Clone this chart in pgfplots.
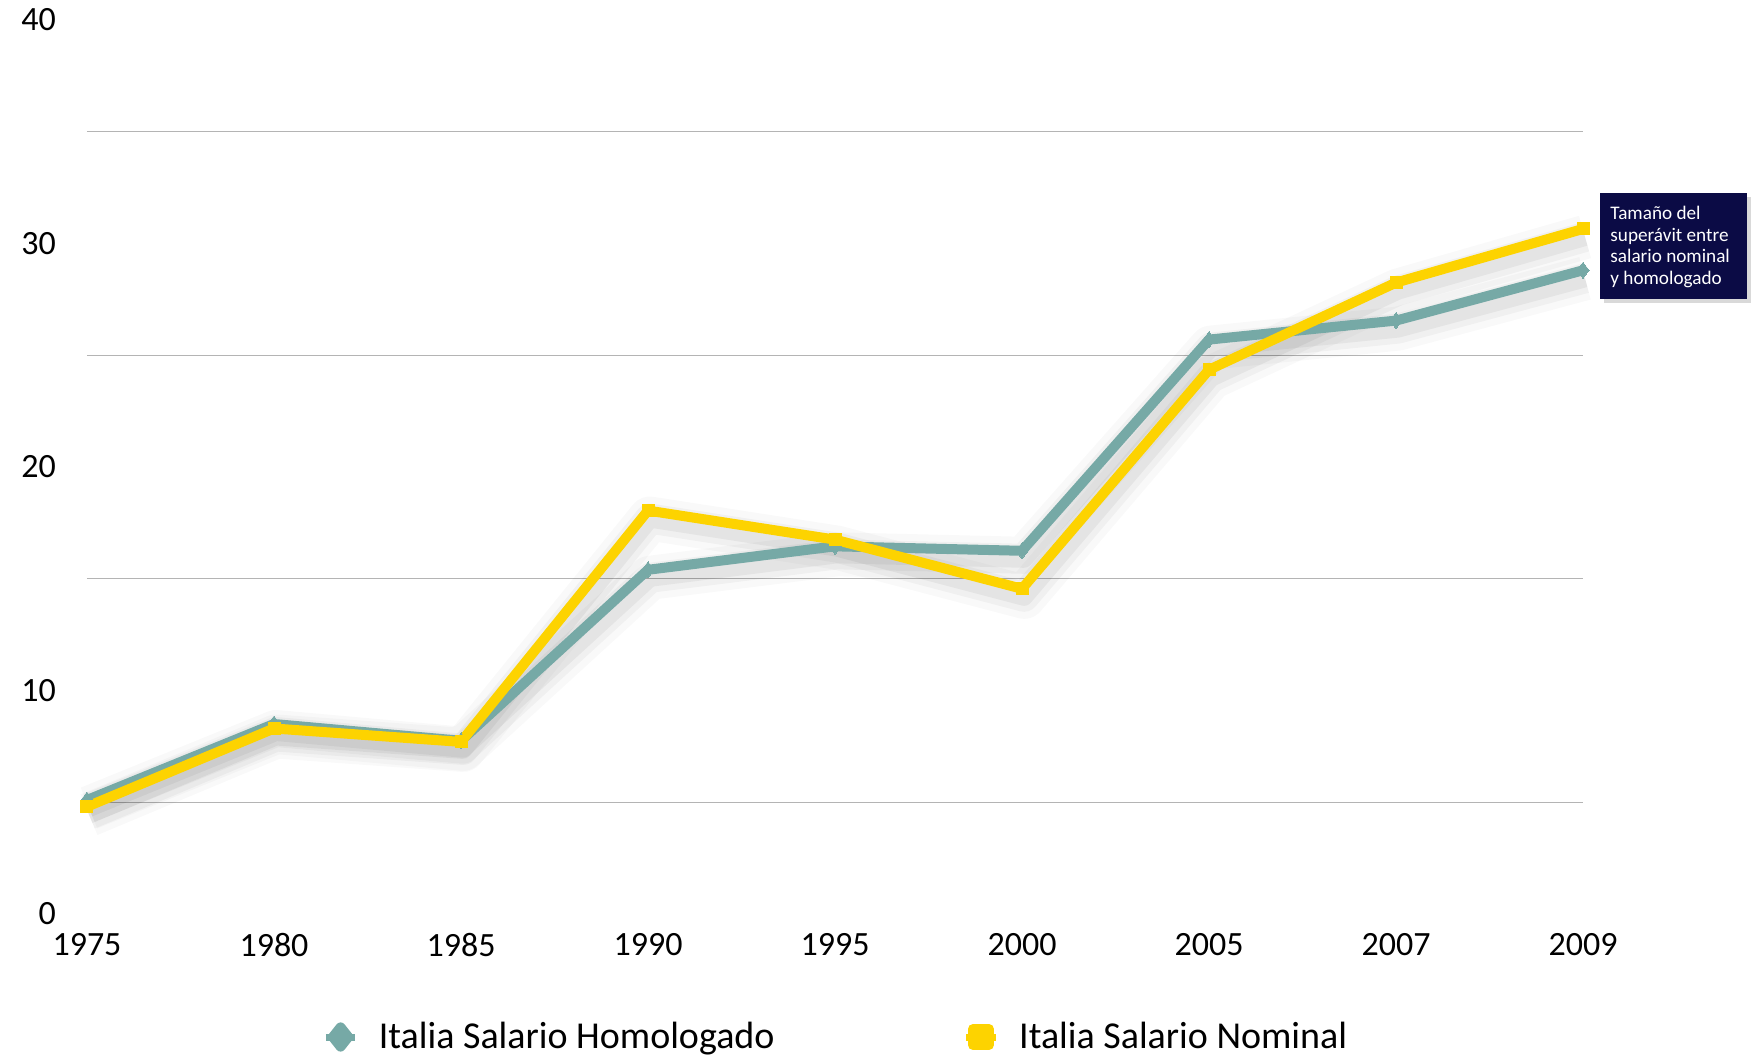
\documentclass[border=0pt]{standalone}
\usepackage{pgfplots}
\pgfplotsset{compat=1.18}
\usepackage{fontspec}
\setmainfont{Carlito}
\usetikzlibrary{shadows}

\definecolor{homcol}{HTML}{76A9A6}
\definecolor{nomcol}{HTML}{FDD300}
\definecolor{boxcol}{HTML}{0B0B45}
\definecolor{gridcol}{HTML}{B4B4B4}

% x = category index (1975,1980,1985,1990,1995,2000,2005,2007,2009)
\pgfplotstableread{
x y
0 5.1
1 8.5
2 7.75
3 15.4
4 16.45
5 16.25
6 25.7
7 26.55
8 28.8
}\homtable

\pgfplotstableread{
x y
0 4.8
1 8.3
2 7.7
3 18.05
4 16.75
5 14.55
6 24.35
7 28.25
8 30.65
}\nomtable

\pgfplotsset{
  shade/.style={forget plot, draw=black, opacity=#1, line join=round,
    transform canvas={shift={(1pt,-4pt)}}},
}

\begin{document}
\begin{tikzpicture}
\begin{axis}[
  scale only axis, width=748pt, height=447pt,
  xmin=0, xmax=8, ymin=0, ymax=40,
  clip=false,
  axis line style={draw=none},
  tick style={draw=none},
  xtick={0,...,8},
  xticklabels={1975,1980,1985,1990,1995,2000,2005,2007,2009},
  ytick={0,10,20,30,40},
  extra y ticks={5,15,25,35},
  extra y tick labels={},
  extra y tick style={grid=major, major grid style={draw=gridcol, line width=0.7pt}},
  /pgf/number format/assume math mode=true,
  ticklabel style={font=\fontsize{17}{17}\selectfont},
  yticklabel style={anchor=east, xshift=-12pt},
  xticklabel style={anchor=north, yshift=-6pt},
  legend style={at={(rel axis cs:0.153,-0.1376)}, anchor=west, draw=none, fill=none,
    font=\fontsize{19}{19}\selectfont, legend columns=2,
    nodes={inner xsep=10pt},
    /tikz/every even column/.append style={column sep=84pt}},
]
% soft shadows under the lines
\addplot[shade=0.025, line width=22pt] table[x=x,y=y] {\homtable};
\addplot[shade=0.035, line width=15pt] table[x=x,y=y] {\homtable};
\addplot[shade=0.05, line width=9pt] table[x=x,y=y] {\homtable};
\addplot[shade=0.025, line width=22pt] table[x=x,y=y] {\nomtable};
\addplot[shade=0.035, line width=15pt] table[x=x,y=y] {\nomtable};
\addplot[shade=0.05, line width=9pt] table[x=x,y=y] {\nomtable};

\addplot[homcol, line width=5pt, line join=round, mark=diamond*, mark size=4pt,
  mark options={solid, fill=homcol, line width=0pt},
  legend image code/.code={
    \draw[homcol, line width=3.5pt] (0cm,0cm) -- (0.52cm,0cm);
    \fill[homcol] (0.26cm,4.8pt) -- (0.26cm+3.8pt,0pt) -- (0.26cm,-4.8pt) -- (0.26cm-3.8pt,0pt) -- cycle;
  }] table[x=x,y=y] {\homtable};
\addplot[nomcol, line width=5pt, line join=round, mark=square*, mark size=3pt,
  mark options={solid, fill=nomcol, line width=0pt},
  legend image code/.code={
    \draw[nomcol, line width=3.5pt] (0cm,0cm) -- (0.52cm,0cm);
    \fill[nomcol] (0.26cm-4pt,-4pt) rectangle (0.26cm+4pt,4pt);
  }] table[x=x,y=y] {\nomtable};
\legend{Italia Salario Homologado, Italia Salario Nominal}
\end{axis}
\node[fill=boxcol, text=white, anchor=north west, minimum width=73.5pt,
  minimum height=53pt, inner sep=0pt, drop shadow={opacity=0.3, shadow xshift=2pt, shadow yshift=-2pt}]
  at (756.5pt,360.5pt) {};
\node[text=white, anchor=north west, align=left, inner sep=0pt,
  font=\fontsize{9.6}{10.8}\selectfont]
  at (761.5pt,354pt) {Tamaño del\\superávit entre\\salario nominal\\y homologado};
\pgfresetboundingbox
\path[use as bounding box] (-43.5pt,-72pt) rectangle (832.5pt,457pt);
\end{tikzpicture}
\end{document}
